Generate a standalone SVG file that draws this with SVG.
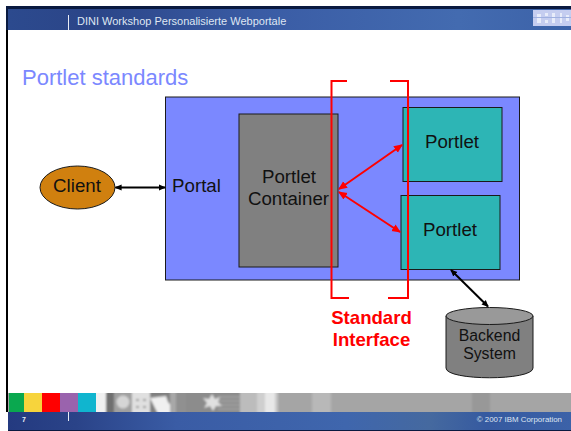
<svg xmlns="http://www.w3.org/2000/svg" width="571" height="431" viewBox="0 0 571 431">
<style>
text{font-family:"Liberation Sans",Arial,sans-serif;fill:#111;text-anchor:middle}
.node{stroke:#1a1a1a;stroke-width:1}
.big{font-size:18.7px}
.red{stroke:#ff0000;stroke-width:2;fill:none}
.rl{stroke:#ff0000;stroke-width:2;fill:none;marker-start:url(#ra);marker-end:url(#ra)}
.bl{stroke:#000;stroke-width:2;fill:none;marker-start:url(#ba);marker-end:url(#ba)}
.h{fill:#dfe6f2;text-anchor:start}
</style>
<defs>
<filter id="soft" x="-5%" y="-10%" width="110%" height="120%"><feGaussianBlur stdDeviation="1"/></filter>
<filter id="soft2" x="-5%" y="-10%" width="110%" height="120%"><feGaussianBlur stdDeviation="0.6"/></filter>
<marker id="ra" viewBox="0 0 8 8" refX="7" refY="4" markerWidth="9" markerHeight="9" markerUnits="userSpaceOnUse" orient="auto-start-reverse"><path d="M0 0.5L8 4L0 7.5Z" fill="#ff0000"/></marker>
<marker id="ba" viewBox="0 0 8 8" refX="7" refY="4" markerWidth="7" markerHeight="7" markerUnits="userSpaceOnUse" orient="auto-start-reverse"><path d="M0 0.5L8 4L0 7.5Z" fill="#000"/></marker>
<linearGradient id="hb" x1="0" x2="1" y1="0" y2="0">
<stop offset="0" stop-color="#2c4a8e"/><stop offset="0.15" stop-color="#2b4588"/><stop offset="0.45" stop-color="#3a5ca5"/><stop offset="0.8" stop-color="#436bb0"/><stop offset="1" stop-color="#3c62a8"/>
</linearGradient>
<linearGradient id="fb" x1="0" x2="1" y1="0" y2="0">
<stop offset="0" stop-color="#243a80"/><stop offset="0.12" stop-color="#2a4388"/><stop offset="0.3" stop-color="#3a5ca5"/><stop offset="0.6" stop-color="#3f66ad"/><stop offset="0.75" stop-color="#45699f"/><stop offset="0.85" stop-color="#365aa0"/><stop offset="1" stop-color="#3c62a8"/>
</linearGradient>
<clipPath id="stripclip"><rect x="96" y="393" width="475" height="19"/></clipPath>
<clipPath id="logoclip"><rect x="533" y="9" width="38" height="21"/></clipPath>
</defs>
<g id="slide-frame">
<rect x="0" y="0" width="571" height="431" fill="#fff"/>
<rect x="6" y="30" width="2" height="382" fill="#000"/>
<rect x="6" y="6" width="565" height="3" fill="#0a1a40"/>
<rect x="6" y="9" width="2" height="21" fill="#0a1a40"/>
<rect x="8" y="9" width="563" height="21" fill="url(#hb)"/>
<rect x="68" y="15" width="1" height="15" fill="#e8ecf5"/>
<text class="h" x="77" y="25" font-size="11">DINI Workshop Personalisierte Webportale</text>
<g clip-path="url(#logoclip)"><rect x="533" y="10" width="38" height="16" fill="#c5cdf0"/><g filter="url(#soft2)"><path d="M537 14h4v9h-4zM545 13h3v3h-3zM545 20h3v3h-3zM552 13h3v10h-3zM560 13h2v10h-2zM566 15h3v6h-3z" fill="#e8ecfa"/><path d="M533 17h38v1h-38z" fill="#9fb0e0"/></g></g>
<g id="footer-strip">
<rect x="8" y="393" width="563" height="19" fill="#a5a5a5"/>
<rect x="9" y="393" width="15" height="19" fill="#0aa84f"/>
<rect x="24" y="393" width="18" height="19" fill="#f7d43c"/>
<rect x="42" y="393" width="18" height="19" fill="#ff0000"/>
<rect x="60" y="393" width="18" height="19" fill="#9a63ad"/>
<rect x="78" y="393" width="18" height="19" fill="#10b5cf"/>
<g clip-path="url(#stripclip)"><g filter="url(#soft)">
<rect x="94" y="390" width="12" height="25" fill="#f0f0f0"/>
<rect x="106" y="390" width="8" height="25" fill="#707070"/>
<rect x="114" y="390" width="18" height="25" fill="#a0a0a0"/>
<circle cx="123" cy="402" r="6.500" fill="#d5d5d5"/>
<rect x="132" y="390" width="18" height="25" fill="#e0e0e0"/>
<path d="M136 399h3v2h-3zM143 399h3v2h-3zM136 406h3v2h-3zM143 406h3v2h-3z" fill="#999"/>
<rect x="150" y="390" width="20" height="25" fill="#808080"/>
<path d="M150 398L166 396L168 402L178 414H158Z" fill="#f0f0f0"/>
<rect x="170" y="390" width="6" height="25" fill="#a8a8a8"/>
<rect x="176" y="390" width="10" height="25" fill="#909090"/>
<rect x="186" y="390" width="54" height="25" fill="#8c8c8c"/>
<path d="M218 397h22M218 401h22M218 405h22M218 409h22" stroke="#a5a5a5" stroke-width="1.300"/>
<path d="M212 394L215 399L220 397L218 402L222 406L216 406L213 411L210 406L204 408L207 403L203 398L209 399Z" fill="#e0e0e0"/>
<rect x="240" y="390" width="17" height="25" fill="#bcbcbc"/>
<rect x="257" y="390" width="8" height="25" fill="#cfcfcf"/>
<rect x="265" y="390" width="10" height="25" fill="#e8e8e8"/>
<rect x="275" y="390" width="3" height="25" fill="#c8c8c8"/>
<rect x="312" y="390" width="19" height="25" fill="#b8b8b8"/>
<rect x="472" y="390" width="18" height="25" fill="#989898"/>
</g></g>
</g>
<rect x="8" y="412" width="563" height="18" fill="url(#fb)"/>
<rect x="8" y="430" width="563" height="1" fill="#0a1a40"/>
<rect x="68" y="412" width="1" height="9" fill="#e8ecf5"/>
<text x="24" y="422" font-size="7" font-weight="bold" style="fill:#e8ecf5">7</text>
<text x="562" y="422" font-size="7.900" style="fill:#dfe6f2;text-anchor:end">© 2007 IBM Corporation</text>
</g>
<text id="title" x="22" y="85" font-size="22" style="fill:#7b88ff;text-anchor:start">Portlet standards</text>
<g id="portal"><rect class="node" x="165.500" y="97" width="354" height="183" fill="#7b88ff"/><text class="big" x="196.500" y="192">Portal</text></g>
<g id="container"><rect class="node" x="239" y="114" width="99" height="153" fill="#808080"/><text class="big" x="289" y="183">Portlet</text><text class="big" x="288.500" y="205">Container</text></g>
<g id="portlet1"><rect class="node" x="403" y="107.500" width="99" height="74" fill="#2db5b5"/><text class="big" x="452" y="148">Portlet</text></g>
<g id="portlet2"><rect class="node" x="401" y="195.500" width="99" height="74" fill="#2db5b5"/><text class="big" x="450" y="236">Portlet</text></g>
<g id="client"><ellipse class="node" cx="77.500" cy="187.500" rx="37.500" ry="21.500" fill="#d0800f"/><text class="big" x="77" y="191.500">Client</text></g>
<g id="backend"><path class="node" d="M446 316V368C446 381 533 381 533 368V316Z" fill="#808080"/><ellipse class="node" cx="489.500" cy="316" rx="43.500" ry="8.500" fill="#999"/><text x="489.500" y="341" font-size="15.800">Backend</text><text x="489.500" y="359" font-size="15.800">System</text></g>
<g id="connectors">
<path class="bl" d="M115.500 187.500H165"/>
<path class="bl" d="M451 270L488 306.500"/>
<path class="rl" d="M339 189L402 145"/>
<path class="rl" d="M339 192L400 232"/>
<path class="red" d="M347 81H331.500V298H349M390 81H408V298H388"/>
</g>
<g id="label"><text x="371.500" y="324" font-size="18.600" font-weight="bold" style="fill:#ff0000">Standard</text><text x="371.500" y="346" font-size="18.600" font-weight="bold" style="fill:#ff0000">Interface</text></g>
</svg>
